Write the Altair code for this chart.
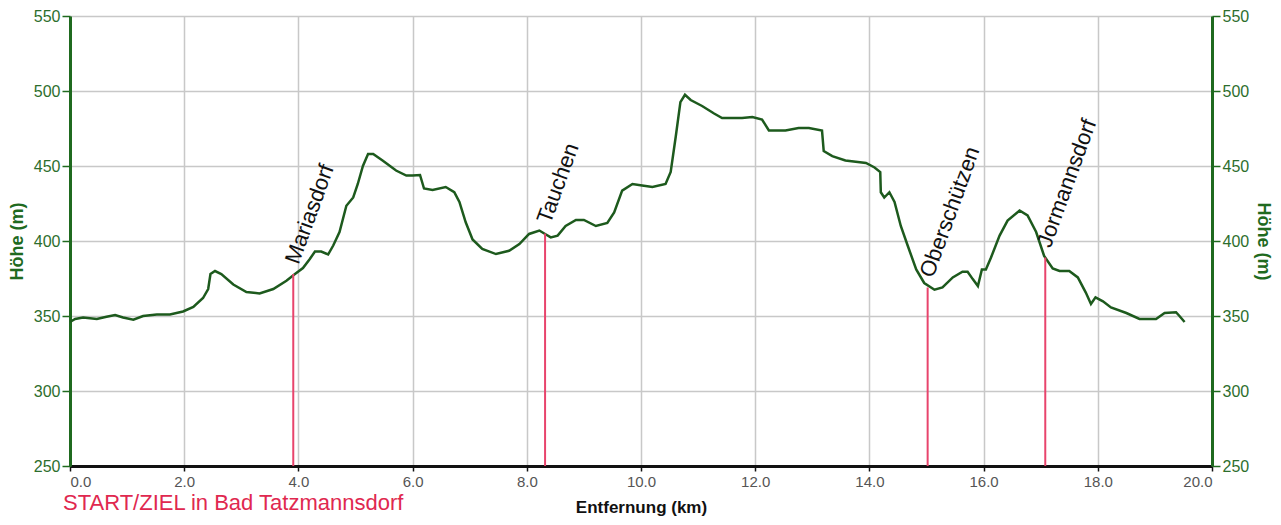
import altair as alt
import pandas as pd

# Elevation profile (km, m)
km = [0.0, 0.09, 0.23, 0.47, 0.64, 0.79, 0.93, 1.11, 1.28, 1.52, 1.75, 1.98, 2.16, 2.33, 2.42,
      2.46, 2.54, 2.65, 2.86, 3.09, 3.32, 3.56, 3.79, 3.94, 4.08, 4.20, 4.29, 4.40, 4.52, 4.61,
      4.72, 4.84, 4.96, 5.04, 5.13, 5.22, 5.31, 5.48, 5.71, 5.89, 6.00, 6.13, 6.20, 6.35, 6.58,
      6.73, 6.82, 6.93, 7.05, 7.22, 7.46, 7.69, 7.87, 8.04, 8.22, 8.32, 8.42, 8.54, 8.68, 8.86,
      9.00, 9.21, 9.41, 9.53, 9.67, 9.85, 10.02, 10.20, 10.43, 10.52, 10.61, 10.69, 10.77, 10.87,
      11.07, 11.28, 11.42, 11.77, 11.95, 12.12, 12.24, 12.53, 12.76, 12.94, 13.17, 13.20, 13.35,
      13.58, 13.94, 14.09, 14.19, 14.20, 14.26, 14.35, 14.44, 14.55, 14.67, 14.82, 14.96, 15.14,
      15.28, 15.46, 15.63, 15.72, 15.81, 15.90, 15.97, 16.04, 16.13, 16.28, 16.42, 16.63, 16.77,
      16.92, 17.06, 17.21, 17.33, 17.50, 17.65, 17.79, 17.88, 17.96, 18.09, 18.23, 18.50, 18.73,
      19.02, 19.17, 19.37, 19.43, 19.52]
elev = [346, 348, 349, 348, 349.5, 350.7, 349, 347.5, 350, 351, 351, 353, 356, 362, 368,
        378, 380, 378, 371, 366, 365, 368, 373.5, 378, 382, 388, 393, 393, 391, 397,
        406, 423.5, 429, 438, 450, 458, 458, 453.5, 447, 443.6, 443.6, 444, 435, 434, 436,
        432.5, 426, 412.5, 401, 394.7, 391.3, 393.5, 398, 404.7, 407, 404.7, 402.4, 403.6, 410, 414,
        414, 410, 412, 419, 433.6, 438, 437, 436, 438, 446, 470, 492.6, 497.5, 494,
        490, 485, 482, 482, 482.6, 481, 473.7, 473.7, 475.3, 475.3, 473.7, 460, 456.6,
        453.7, 452, 449, 446, 432.5, 429, 432.5, 426, 410, 397, 381, 372, 367.5,
        369, 375.7, 379.5, 379.5, 374.6, 370, 381, 381, 389, 403.6, 413.6, 420.3, 417,
        406, 390, 381.7, 380, 380, 375.7, 365.6, 358, 362.4, 359.8, 355.7, 352, 348,
        348, 352, 352.5, 350, 346]

# Places along the route
places = ["Mariasdorf", "Tauchen", "Oberschützen", "Jormannsdorf"]
place_km = [3.91, 8.32, 15.02, 17.08]
place_elev = [378, 405, 369, 389]

x_ticks = [0, 2, 4, 6, 8, 10, 12, 14, 16, 18, 20]
y_ticks = [250, 300, 350, 400, 450, 500, 550]

profile = pd.DataFrame({"km": km, "elev": elev})
towns = pd.DataFrame({"km": place_km, "elev": place_elev, "name": places,
                      "base": [250] * len(places)})
note = pd.DataFrame({"t": ["START/ZIEL in Bad Tatzmannsdorf"]})

FONT = "Liberation Sans"
GREEN_LINE = "#1d5a1d"
GREEN_AXIS = "#1f6a1f"
GREEN_LABEL = "#2d6e2d"
RED = "#e8446c"

xscale = alt.Scale(domain=[0, 20], nice=False, zero=False)
yscale = alt.Scale(domain=[250, 550], nice=False, zero=False)

xaxis = alt.Axis(values=x_ticks, format=".1f", title="Entfernung (km)",
                 labelFont=FONT, labelFontSize=15, labelColor="#555555",
                 labelPadding=3, tickSize=5, tickColor="#111111", tickWidth=1.5,
                 domainColor="#111111", domainWidth=3,
                 titleFont=FONT, titleFontSize=17, titleFontWeight="bold",
                 titleColor="#111111", titlePadding=10,
                 grid=True, gridColor="#c8c8c8", gridWidth=1.5)

def yaxis(orient, grid, pad):
    return alt.Axis(orient=orient, values=y_ticks, format="d", title="Höhe (m)",
                    labelFont=FONT, labelFontSize=16, labelColor=GREEN_LABEL,
                    labelPadding=2, tickSize=8, tickColor=GREEN_AXIS, tickWidth=1.5,
                    domainColor=GREEN_AXIS, domainWidth=3,
                    titleFont=FONT, titleFontSize=18, titleFontWeight="bold",
                    titleColor=GREEN_AXIS, titlePadding=pad,
                    grid=grid, gridColor="#c8c8c8", gridWidth=1.5)

X = alt.X("km:Q", scale=xscale, axis=xaxis)

line = alt.Chart(profile).mark_line(color=GREEN_LINE, strokeWidth=2.5).encode(
    x=X, y=alt.Y("elev:Q", scale=yscale, axis=yaxis("left", True, 7)))

line_right = alt.Chart(profile).mark_line(opacity=0).encode(
    x=X, y=alt.Y("elev:Q", scale=yscale, axis=yaxis("right", False, 5)))

rules = alt.Chart(towns).mark_rule(color=RED, strokeWidth=2).encode(
    x=X, y=alt.Y("elev:Q", scale=yscale, axis=None), y2="base:Q")

labels = alt.Chart(towns).mark_text(angle=290, align="left", baseline="alphabetic",
                                    dx=10, dy=2, font=FONT, fontSize=22,
                                    color="#111111").encode(
    x=X, y=alt.Y("elev:Q", scale=yscale, axis=None), text="name:N")

start = alt.Chart(note).mark_text(align="left", baseline="alphabetic", font=FONT,
                                  fontSize=22, color="#e0284f").encode(
    x=alt.value(-7), y=alt.value(494), text="t:N")

chart = alt.layer(line, line_right, rules, labels, start).resolve_scale(
    y="independent"
).properties(
    width=1142, height=450,
    autosize=alt.AutoSizeParams(type="none"),
    padding={"left": 62, "top": 8, "right": 61, "bottom": 51},
).configure_view(stroke=None).configure(background="white")

chart.save("out.html", embed_options={"renderer": "svg", "actions": False})
